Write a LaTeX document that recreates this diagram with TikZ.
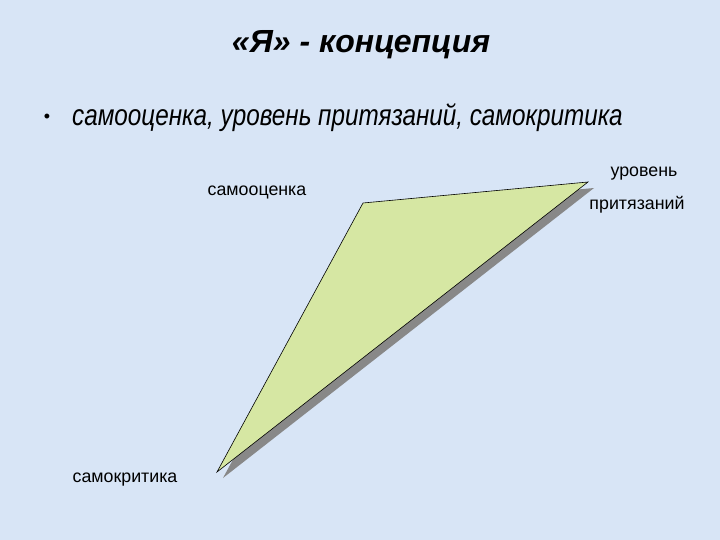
\documentclass[tikz,border=0pt]{standalone}
\usepackage{fontspec}
\setmainfont{Liberation Sans}
\newfontfamily\narrowfont[FakeStretch=0.82]{Liberation Sans}
\usepackage{tikz}
\definecolor{Sky}{RGB}{216,229,246}
\definecolor{Leaf}{RGB}{214,231,163}
\definecolor{Shade}{RGB}{136,136,136}
\tikzstyle{none}=[inner sep=0pt]
\tikzstyle{label}=[inner sep=0pt,font=\fontsize{17.8}{20}\selectfont]
\tikzstyle{simple}=[-,draw=black,line width=0.6]

\begin{document}
\begin{tikzpicture}[x=1pt,y=-1pt]
  \fill [Sky] (0, 0) rectangle (720, 540);
  \node [style=none] (0) at (361, 45) {\fontsize{32}{34}\selectfont\bfseries\itshape «Я» - концепция};
  \node [style=none] (1) at (47, 118) {\fontsize{18}{20}\selectfont •};
  \node [style=none, anchor=west] (2) at (72, 118) {\narrowfont\fontsize{29.6}{32}\selectfont\itshape самооценка, уровень притязаний, самокритика};
  \node [style=none] (3) at (363, 203) {};
  \node [style=none] (4) at (588, 182) {};
  \node [style=none] (5) at (217, 472) {};
  \node [style=label] (6) at (257, 192) {самооценка};
  \node [style=label] (7) at (644, 174) {уровень};
  \node [style=label] (8) at (637, 205) {притязаний};
  \node [style=label] (9) at (125, 480) {самокритика};
  \fill [Shade] ([shift={(6,6)}]3.center) -- ([shift={(6,6)}]4.center) -- ([shift={(6,6)}]5.center) -- cycle;
  \draw [style=simple, fill=Leaf] (3.center) to (4.center) to (5.center) -- cycle;
\end{tikzpicture}
\end{document}
